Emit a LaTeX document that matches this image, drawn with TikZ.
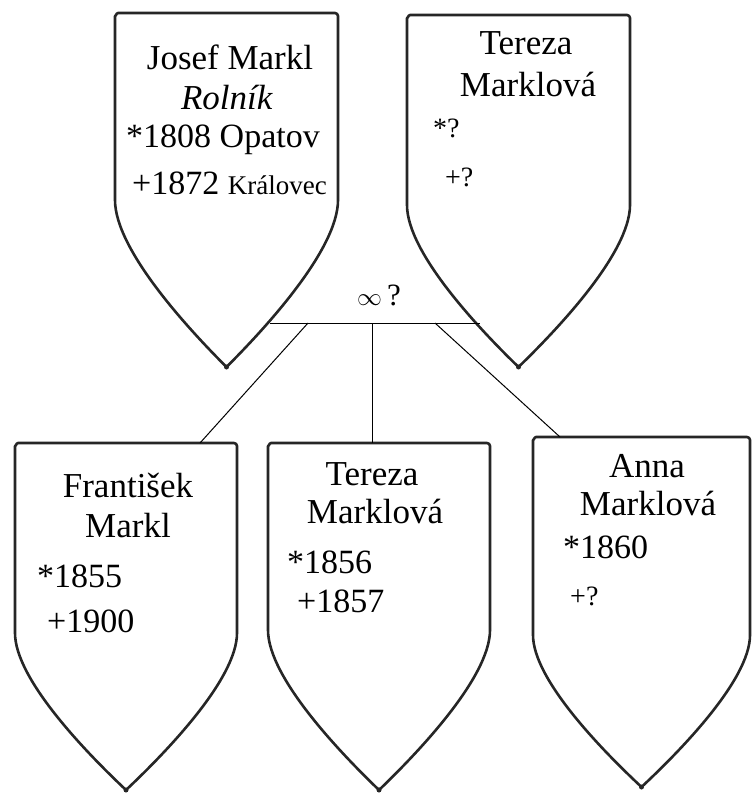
\documentclass[tikz,border=0pt]{standalone}
\usepackage{fontspec}
\setmainfont{Liberation Serif}

\tikzset{
  shieldline/.style={draw=black!85, line width=2.6pt, line join=round},
  famline/.style={draw=black, line width=1pt},
  persname/.style={font=\fontsize{35}{38}\selectfont, anchor=base, inner sep=0pt},
  persdate/.style={font=\fontsize{34}{36}\selectfont, anchor=base west, inner sep=0pt},
  persq/.style={font=\fontsize{28}{30}\selectfont, anchor=base west, inner sep=0pt},
}

% shield: name, left, right, top, end of straight sides, tip
\newcommand{\shield}[6]{%
  \pgfmathsetmacro{\shmid}{(#2+#3)/2}
  \pgfmathsetmacro{\shcy}{#5+0.3*(#6-#5)}
  \pgfmathsetmacro{\shty}{#6-0.22*(#6-#5)}
  \pgfmathsetmacro{\shrx}{\shmid+0.33*(#3-\shmid)}
  \pgfmathsetmacro{\shlx}{\shmid-0.33*(#3-\shmid)}
  \draw[shieldline] (#2,#5) -- (#2,#4+3) to[out=-90,in=180] (#2+3,#4) -- (#3-3,#4)
    to[out=0,in=90] (#3,#4+3) -- (#3,#5)
    .. controls (#3,\shcy) and (\shrx,\shty) .. (\shmid,#6)
    .. controls (\shlx,\shty) and (#2,\shcy) .. cycle;
  \fill[black!85] (\shmid,#6) circle (2.5pt);
  \coordinate (#1 tip) at (\shmid,#6);
}

\begin{document}
\begin{tikzpicture}[x=1pt,y=-1pt]
  \useasboundingbox (0,0) rectangle (752,794);

  % parents
  \shield{josef}{115}{338}{13}{200}{367}
  \shield{tereza}{407}{630}{15}{205}{367}
  % children
  \shield{frantisek}{15}{237}{443}{633}{790}
  \shield{terezad}{268}{490}{443}{630}{790}
  \shield{anna}{533}{750}{437}{635}{787}

  % Josef Markl
  \node[persname] (josefname) at (230,70) {Josef Markl};
  \node[persname] (josefjob) at (227,110) {\textit{Rolník}};
  \node[persdate] (josefborn) at (126,148) {*1808 Opatov};
  \node[persdate] (josefdied) at (132,195) {+1872 {\fontsize{27}{30}\selectfont Královec}};

  % Tereza Marklova
  \node[persname] (terezaname) at (526,55) {Tereza};
  \node[persname] (terezasur) at (528,97) {Marklová};
  \node[persq] (terezaborn) at (433,138) {*?};
  \node[persq] (terezadied) at (445,187) {+?};

  % marriage
  \node[font=\fontsize{31}{33}\selectfont, anchor=base, inner sep=0pt] (marriage) at (379,305) {$\infty$\,?};
  \coordinate (bar west) at (270,323);
  \coordinate (bar east) at (480,323);
  \coordinate (bar a) at (308,323);
  \coordinate (bar b) at (372,323);
  \coordinate (bar c) at (435,323);
  \draw[famline] (bar west) -- (bar east);

  % children
  \coordinate (frantisek in) at (200,443);
  \coordinate (terezad in) at (372,443);
  \coordinate (anna in) at (560,437);
  \draw[famline] (bar a) -- (frantisek in);
  \draw[famline] (bar b) -- (terezad in);
  \draw[famline] (bar c) -- (anna in);

  \node[persname] (frantisekname) at (128,497) {František};
  \node[persname] (frantiseksur) at (128,537) {Markl};
  \node[persdate] (frantisekborn) at (37,587) {*1855};
  \node[persdate] (frantisekdied) at (47,632) {+1900};

  \node[persname] (terezadname) at (372,485) {Tereza};
  \node[persname] (terezadsur) at (375,523) {Marklová};
  \node[persdate] (terezadborn) at (287,573) {*1856};
  \node[persdate] (terezaddied) at (297,612) {+1857};

  \node[persname] (annaname) at (647,477) {Anna};
  \node[persname] (annasur) at (648,515) {Marklová};
  \node[persdate] (annaborn) at (563,558) {*1860};
  \node[persq] (annadied) at (570,605) {+?};
\end{tikzpicture}
\end{document}
